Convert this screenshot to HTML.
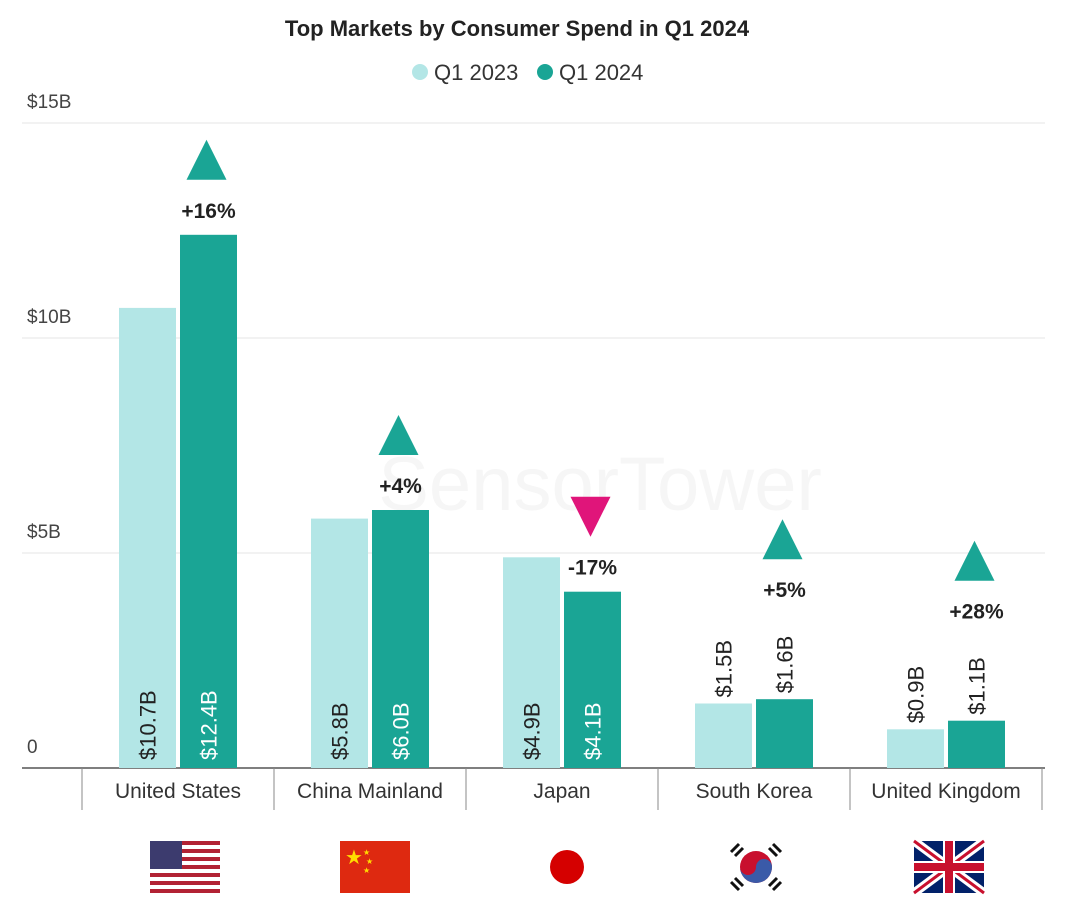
<!DOCTYPE html>
<html><head><meta charset="utf-8"><style>
body{margin:0;background:#fff;}
svg{display:block;font-family:"Liberation Sans",sans-serif;}
</style></head><body>
<svg id="chart" width="1080" height="912" viewBox="0 0 1080 912">
<text x="517" y="36" text-anchor="middle" font-size="22" font-weight="bold" fill="#222">Top Markets by Consumer Spend in Q1 2024</text>
<g>
<circle cx="420" cy="72" r="8" fill="#b3e6e6"/>
<text x="434" y="80" font-size="22" fill="#333">Q1 2023</text>
<circle cx="545" cy="72" r="8" fill="#1aa595"/>
<text x="559" y="80" font-size="22" fill="#333">Q1 2024</text>
</g>
<text x="600" y="510" text-anchor="middle" font-size="76" fill="#f6f6f6">SensorTower</text>
<g id="grid"></g><g id="bars"></g><g id="labels"></g><g id="flags"></g>
</svg>
<script>
const categories=["United States","China Mainland","Japan","South Korea","United Kingdom"];
const q2023=[10.7,5.8,4.9,1.5,0.9];
const q2024=[12.4,6.0,4.1,1.6,1.1];
const labels2023=["$10.7B","$5.8B","$4.9B","$1.5B","$0.9B"];
const labels2024=["$12.4B","$6.0B","$4.1B","$1.6B","$1.1B"];
const changes=["+16%","+4%","-17%","+5%","+28%"];
const yTicks=[0,5,10,15];
const yTickLabels=["0","$5B","$10B","$15B"];
const NS="http://www.w3.org/2000/svg";
const y0=768,ppu=43,gx0=82,gw=192,bw=57;
const yS=v=>y0-v*ppu;
function mk(t,a,p){const e=document.createElementNS(NS,t);for(const k in a)e.setAttribute(k,a[k]);p.appendChild(e);return e;}
const G=document.getElementById('grid'),B=document.getElementById('bars'),L=document.getElementById('labels'),F=document.getElementById('flags');
yTicks.forEach((t,i)=>{
 if(t>0){const l=mk('line',{x1:22,x2:1045,y1:yS(t),y2:yS(t),stroke:'#e4e4e4','stroke-width':1},G);
 
 }
 const tx=mk('text',{x:27,y:yS(t)-15,'font-size':19,fill:'#444'},G);tx.textContent=yTickLabels[i];
 
 
});
const ax=mk('line',{x1:22,x2:1045,y1:y0,y2:y0,stroke:'#555','stroke-width':1.5},G);


for(let i=0;i<=5;i++){const s=mk('line',{x1:gx0+i*gw,x2:gx0+i*gw,y1:y0,y2:810,stroke:'#888','stroke-width':1},G);
 
 }
categories.forEach((c,i)=>{
 const cx=gx0+i*gw+gw/2;
 const x1=cx-bw-2,x2=cx+2;
 const r1=mk('rect',{x:x1,y:yS(q2023[i]),width:bw,height:q2023[i]*ppu,fill:'#b3e6e6'},B);
 
 
 const r2=mk('rect',{x:x2,y:yS(q2024[i]),width:bw,height:q2024[i]*ppu,fill:'#1aa595'},B);
 
 
 const big=Math.max(q2023[i],q2024[i])>=4;
 [[x1,q2023[i],labels2023[i],'#222'],[x2,q2024[i],labels2024[i],'#fff']].forEach(([bx,v,tx,col])=>{
  const xx=bx+bw/2+8;
  const yy=big?y0-8:yS(v)-6;
  const t=mk('text',{x:xx,y:yy,transform:`rotate(-90 ${xx} ${yy})`,'font-size':22,fill:big?col:'#222'},L);
  t.textContent=tx;
  
  
 });
 const py=big?yS(q2024[i])-25:yS(q2024[i])-110;
 const pc=mk('text',{x:x2+bw/2,y:py+8,'text-anchor':'middle','font-size':21,'font-weight':'bold',fill:'#222'},L);
 pc.textContent=changes[i];
 
 
 const tx0=x2+bw/2-2,down=changes[i][0]==='-';
 const ty=py-30;
 const tri=mk('polygon',{points:down?`${tx0-20},${ty-40} ${tx0+20},${ty-40} ${tx0},${ty}`:`${tx0},${ty-40} ${tx0-20},${ty} ${tx0+20},${ty}`,fill:down?'#e0157a':'#1aa595'},L);
 
 
 const cl=mk('text',{x:cx,y:798,'text-anchor':'middle','font-size':21,fill:'#333'},L);
 cl.textContent=c;
 
 
});
function flag(name,html){const g=mk('g',{},F);g.innerHTML=html;}
let us='<rect x="150" y="841" width="70" height="52" fill="#fff"/>';
for(let k=0;k<7;k++)us+=`<rect x="150" y="${841+k*8}" width="70" height="4" fill="#b22234"/>`;
us+='<rect x="150" y="841" width="32" height="28" fill="#3c3b6e"/>';
flag('flag-us',us);
flag('flag-china','<rect x="340" y="841" width="70" height="52" fill="#de2910"/><text x="345" y="864" font-size="20" fill="#ffde00">★</text><text x="363" y="855" font-size="8" fill="#ffde00">★</text><text x="366" y="864" font-size="8" fill="#ffde00">★</text><text x="363" y="873" font-size="8" fill="#ffde00">★</text>');
flag('flag-japan','<circle cx="567" cy="867" r="17" fill="#d50000"/>');
flag('flag-korea','<circle cx="756" cy="867" r="16" fill="#c8102e"/><path d="M740 867 a16 16 0 0 0 32 0 a8 8 0 0 0 -16 0 a8 8 0 0 1 -16 0z" fill="#3a5aa8"/><g stroke="#111" stroke-width="3"><line x1="731" y1="852" x2="739" y2="844"/><line x1="735" y1="856" x2="743" y2="848"/><line x1="773" y1="844" x2="781" y2="852"/><line x1="769" y1="848" x2="777" y2="856"/><line x1="731" y1="882" x2="739" y2="890"/><line x1="735" y1="878" x2="743" y2="886"/><line x1="773" y1="890" x2="781" y2="882"/><line x1="769" y1="886" x2="777" y2="878"/></g>');
flag('flag-uk','<rect x="914" y="841" width="70" height="52" fill="#012169"/><path d="M914 841 L984 893 M984 841 L914 893" stroke="#fff" stroke-width="9"/><path d="M914 841 L984 893 M984 841 L914 893" stroke="#c8102e" stroke-width="3"/><rect x="943" y="841" width="12" height="52" fill="#fff"/><rect x="914" y="861" width="70" height="12" fill="#fff"/><rect x="945" y="841" width="8" height="52" fill="#c8102e"/><rect x="914" y="863" width="70" height="8" fill="#c8102e"/>');
</script>
</body></html>
